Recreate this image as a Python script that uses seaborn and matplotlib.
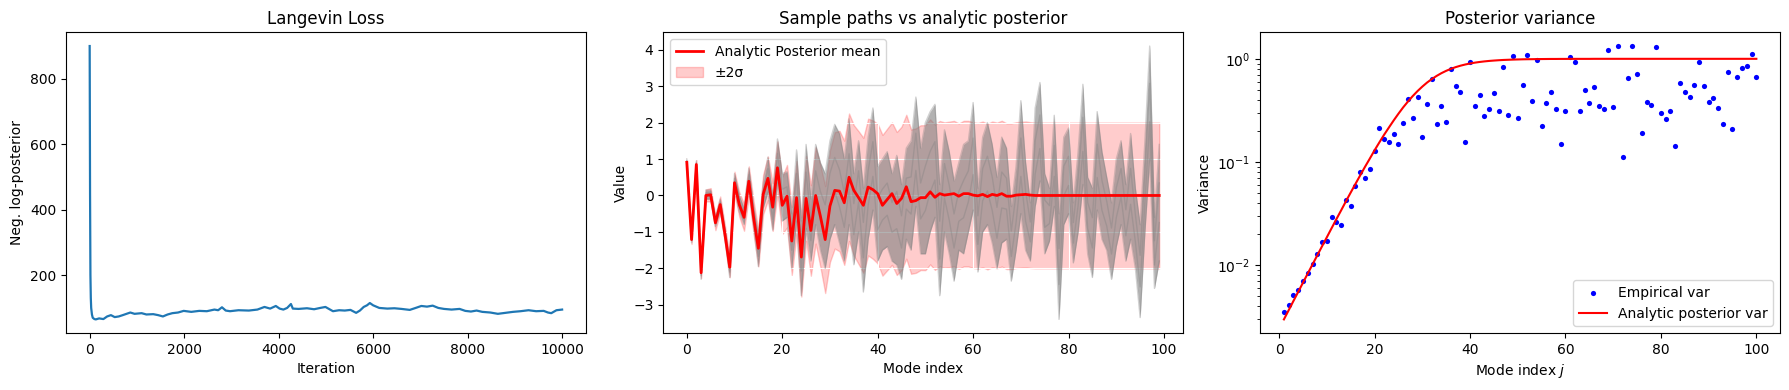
import numpy as np
import matplotlib
matplotlib.use("Agg")
import matplotlib.pyplot as plt
import seaborn as sns

# Langevin loss
loss_iter = [0, 8, 16, 24, 32, 48, 65, 100, 130, 200, 290, 370, 450, 530, 615, 700, 780, 860, 950,
             1100, 1200, 1345, 1450, 1550, 1650, 1750, 1870, 1990, 2150, 2320, 2480, 2640, 2720,
             2800, 2880, 2970, 3150, 3370, 3550, 3700, 3820, 3940, 4020, 4100, 4180, 4260, 4300,
             4420, 4600, 4750, 4880, 4990, 5150, 5280, 5400, 5520, 5640, 5720, 5800, 5870, 5930,
             6000, 6130, 6300, 6450, 6600, 6775, 6900, 7020, 7140, 7260, 7380, 7500, 7660, 7830,
             7950, 8070, 8190, 8310, 8480, 8640, 8800, 8960, 9120, 9290, 9450, 9610, 9700, 9770,
             9880, 10000]
loss_val = [900, 450, 200, 130, 100, 80, 70, 66, 65, 68, 66, 74, 78, 72, 74, 78, 82, 86, 82,
            84, 80, 81, 78, 74, 80, 84, 86, 91, 88, 91, 90, 95, 93,
            102, 92, 90, 93, 92, 95, 103, 98, 106, 98, 95, 100, 112, 98,
            97, 99, 96, 100, 103, 90, 93, 92, 94, 85, 92, 103, 108, 115,
            108, 100, 98, 99, 97, 94, 100, 106, 104, 107, 100, 97, 95, 97,
            91, 89, 92, 88, 86, 82, 85, 88, 90, 93, 90, 91, 86, 84,
            93, 95]

# middle panel: analytic posterior mean per mode, and spread of the sample paths
mode_idx = list(range(100))
post_mean = [0.91, -1.21, 0.85, -2.12, 0.0, 0.02, -0.75, -0.25, -1.07, -1.97,
             0.35, -0.25, -0.6, 0.39, -0.61, -1.45, 0.03, 0.47, -0.32, 0.76,
             -0.27, -0.02, -1.25, -0.06, -1.69, -0.08, -0.96, 0.0, -0.57, -1.21,
             -0.29, 0.14, 0.12, -0.2, 0.5, 0.14, -0.06, -0.27, 0.23, 0.16,
             0.05, -0.27, -0.11, 0.05, -0.22, -0.08, 0.24, -0.17, -0.14, -0.06,
             -0.06, 0.1, -0.05, 0.05, 0.01, 0.03, 0.05, -0.02, 0.05, 0.05,
             0.01, -0.01, 0.03, -0.03, 0.03, 0.0, 0.05, -0.02, -0.02, 0.01,
             0.02, 0.03, 0.01, 0.0, 0.0, 0.0, 0.0, 0.0, 0.0, 0.0,
             0.0, 0.0, 0.0, 0.0, 0.0, 0.0, 0.0, 0.0, 0.0, 0.0,
             0.0, 0.0, 0.0, 0.0, 0.0, 0.0, 0.0, 0.0, 0.0, 0.0]
paths_hi = [1.0, -1.1, 0.95, -2.0, 0.15, 0.15, -0.6, -0.1, -0.9, -1.8,
            0.6, 0.0, -0.35, 0.75, -0.3, -1.1, 0.35, 1.05, -0.05, 1.55,
            0.6, 0.65, -0.5, 1.25, -0.7, 1.4, -0.1, 1.4, 0.9, 0.6,
            1.5, 1.95, 1.7, 1.0, 2.1, 0.6, 1.5, 0.2, 1.6, 2.4,
            0.8, 1.0, 1.2, 0.6, 1.1, 0.3, 1.3, 1.5, 2.7, 1.3,
            2.0, 2.3, 2.5, 0.3, 1.8, 1.2, 0.4, 0.9, 1.4, 1.5,
            2.55, 0.2, 1.6, 2.0, 1.4, 0.5, 1.6, 1.3, -0.3, 0.8,
            2.6, 0.9, -0.2, 2.4, 3.1, 0.6, 0.2, 2.2, -0.5, 1.6,
            1.85, -0.2, 1.2, 3.05, 0.5, 0.2, 2.3, 1.2, 0.5, -0.2,
            1.0, 1.5, 0.3, 1.7, 0.2, -0.8, 1.5, 4.1, -0.6, 1.4]
paths_lo = [0.85, -1.3, 0.8, -2.3, -0.1, -0.1, -0.85, -0.4, -1.2, -2.25,
            0.2, -0.45, -0.8, 0.2, -0.85, -1.95, -0.35, 0.1, -0.95, 0.35,
            -0.7, -0.6, -2.0, -0.7, -2.75, -0.9, -1.8, -0.8, -1.5, -2.0,
            -1.2, -0.8, -1.3, -1.8, -0.8, -1.9, -1.0, -2.65, -1.2, -0.4,
            -1.8, -1.5, -1.4, -1.8, -1.9, -2.3, -1.2, -1.5, -0.3, -1.6,
            -1.6, -1.0, -0.6, -2.75, -1.0, -1.6, -2.35, -1.5, -1.6, -1.0,
            -0.4, -2.1, -1.0, -0.8, -1.3, -2.0, -1.3, -1.2, -2.35, -1.5,
            -0.5, -1.5, -1.8, -0.3, 0.4, -1.6, -1.25, -0.3, -3.4, -0.8,
            -0.5, -1.85, -1.0, 0.3, -1.6, -2.25, -0.4, -1.2, -1.5, -2.3,
            -1.4, -0.8, -1.8, -1.2, -2.0, -3.35, -1.0, 1.0, -2.55, -1.8]

# right panel
mode_j = list(range(1, 101))
analytic_var = [0.00299, 0.00367, 0.00451, 0.00553, 0.00679, 0.00832, 0.0102, 0.0125, 0.0153, 0.0187,
                0.0229, 0.0280, 0.0341, 0.0417, 0.0507, 0.0615, 0.0745, 0.0900, 0.108, 0.130,
                0.155, 0.184, 0.216, 0.253, 0.294, 0.339, 0.386, 0.436, 0.487, 0.538,
                0.589, 0.637, 0.683, 0.726, 0.765, 0.800, 0.831, 0.858, 0.881, 0.901,
                0.918, 0.932, 0.944, 0.954, 0.962, 0.969, 0.975, 0.979, 0.983, 0.986,
                0.989, 0.991, 0.992, 0.994, 0.995, 0.996, 0.997, 0.997, 0.998, 0.998,
                0.999, 0.999, 0.999, 0.999, 0.999, 1.0, 1.0, 1.0, 1.0, 1.0,
                1.0, 1.0, 1.0, 1.0, 1.0, 1.0, 1.0, 1.0, 1.0, 1.0,
                1.0, 1.0, 1.0, 1.0, 1.0, 1.0, 1.0, 1.0, 1.0, 1.0,
                1.0, 1.0, 1.0, 1.0, 1.0, 1.0, 1.0, 1.0, 1.0, 1.0]
empirical_var = [0.0035, 0.0041, 0.0052, 0.0057, 0.0071, 0.0084, 0.0103, 0.0130, 0.0168, 0.0172,
                 0.0293, 0.0264, 0.0245, 0.0427, 0.0373, 0.0582, 0.0795, 0.0696, 0.0850, 0.127,
                 0.216, 0.166, 0.155, 0.185, 0.151, 0.241, 0.405, 0.270, 0.430, 0.173,
                 0.368, 0.641, 0.236, 0.352, 0.247, 0.801, 0.549, 0.481, 0.158, 0.929,
                 0.352, 0.45, 0.282, 0.33, 0.47, 0.315, 0.837, 0.288, 1.07, 0.27,
                 0.561, 1.09, 0.394, 0.978, 0.221, 0.376, 0.481, 0.324, 0.148, 0.315,
                 1.03, 0.922, 0.315, 0.502, 0.376, 0.537, 0.352, 0.33, 1.22, 0.344,
                 1.33, 0.113, 0.656, 1.33, 0.717, 0.193, 0.385, 0.36, 1.31, 0.301,
                 0.264, 0.315, 0.142, 0.587, 0.481, 0.43, 0.561, 0.935, 0.549, 0.385,
                 0.42, 0.337, 0.236, 0.749, 0.207, 0.67, 0.819, 0.856, 1.12, 0.67]

fig, axes = plt.subplots(1, 3, figsize=(17.9, 3.9), dpi=100)
fig.subplots_adjust(left=0.0369, right=0.9944, bottom=0.146, top=0.917, wspace=0.149)

# 1) loss
ax = axes[0]
sns.lineplot(x=loss_iter, y=loss_val, ax=ax, color="#1f77b4", lw=1.6)
ax.set_title("Langevin Loss")
ax.set_xlabel("Iteration")
ax.set_ylabel("Neg. log-posterior")

# 2) sample paths vs analytic posterior
ax = axes[1]
mean = np.array(post_mean)
sd = np.sqrt(np.array(analytic_var))
hi = np.array(paths_hi)
lo = np.array(paths_lo)
ax.fill_between(mode_idx, mean - 2 * sd, mean + 2 * sd, color="red", alpha=0.2, label="±2σ", zorder=1)
ax.fill_between(mode_idx, lo, hi, color="gray", alpha=0.6, lw=0, zorder=2)
for frac in [0.0, 0.33, 0.67, 1.0]:
    sns.lineplot(x=mode_idx, y=lo + frac * (hi - lo), ax=ax, color="gray", alpha=0.35, lw=1)
sns.lineplot(x=mode_idx, y=post_mean, ax=ax, color="red", lw=2, label="Analytic Posterior mean", zorder=3)
ax.grid(True, color="white")
h, l = ax.get_legend_handles_labels()
order = [l.index("Analytic Posterior mean"), l.index("±2σ")]
ax.legend([h[i] for i in order], [l[i] for i in order], loc="upper left")
ax.set_title("Sample paths vs analytic posterior")
ax.set_xlabel("Mode index")
ax.set_ylabel("Value")

# 3) posterior variance
ax = axes[2]
sns.scatterplot(x=mode_j, y=empirical_var, ax=ax, color="blue", s=14, linewidth=0, label="Empirical var")
sns.lineplot(x=mode_j, y=analytic_var, ax=ax, color="red", lw=1.5, label="Analytic posterior var")
ax.set_yscale("log")
ax.legend(loc="lower right")
ax.set_title("Posterior variance")
ax.set_xlabel("Mode index $j$")
ax.set_ylabel("Variance")

fig.savefig("out.png", dpi=100)
